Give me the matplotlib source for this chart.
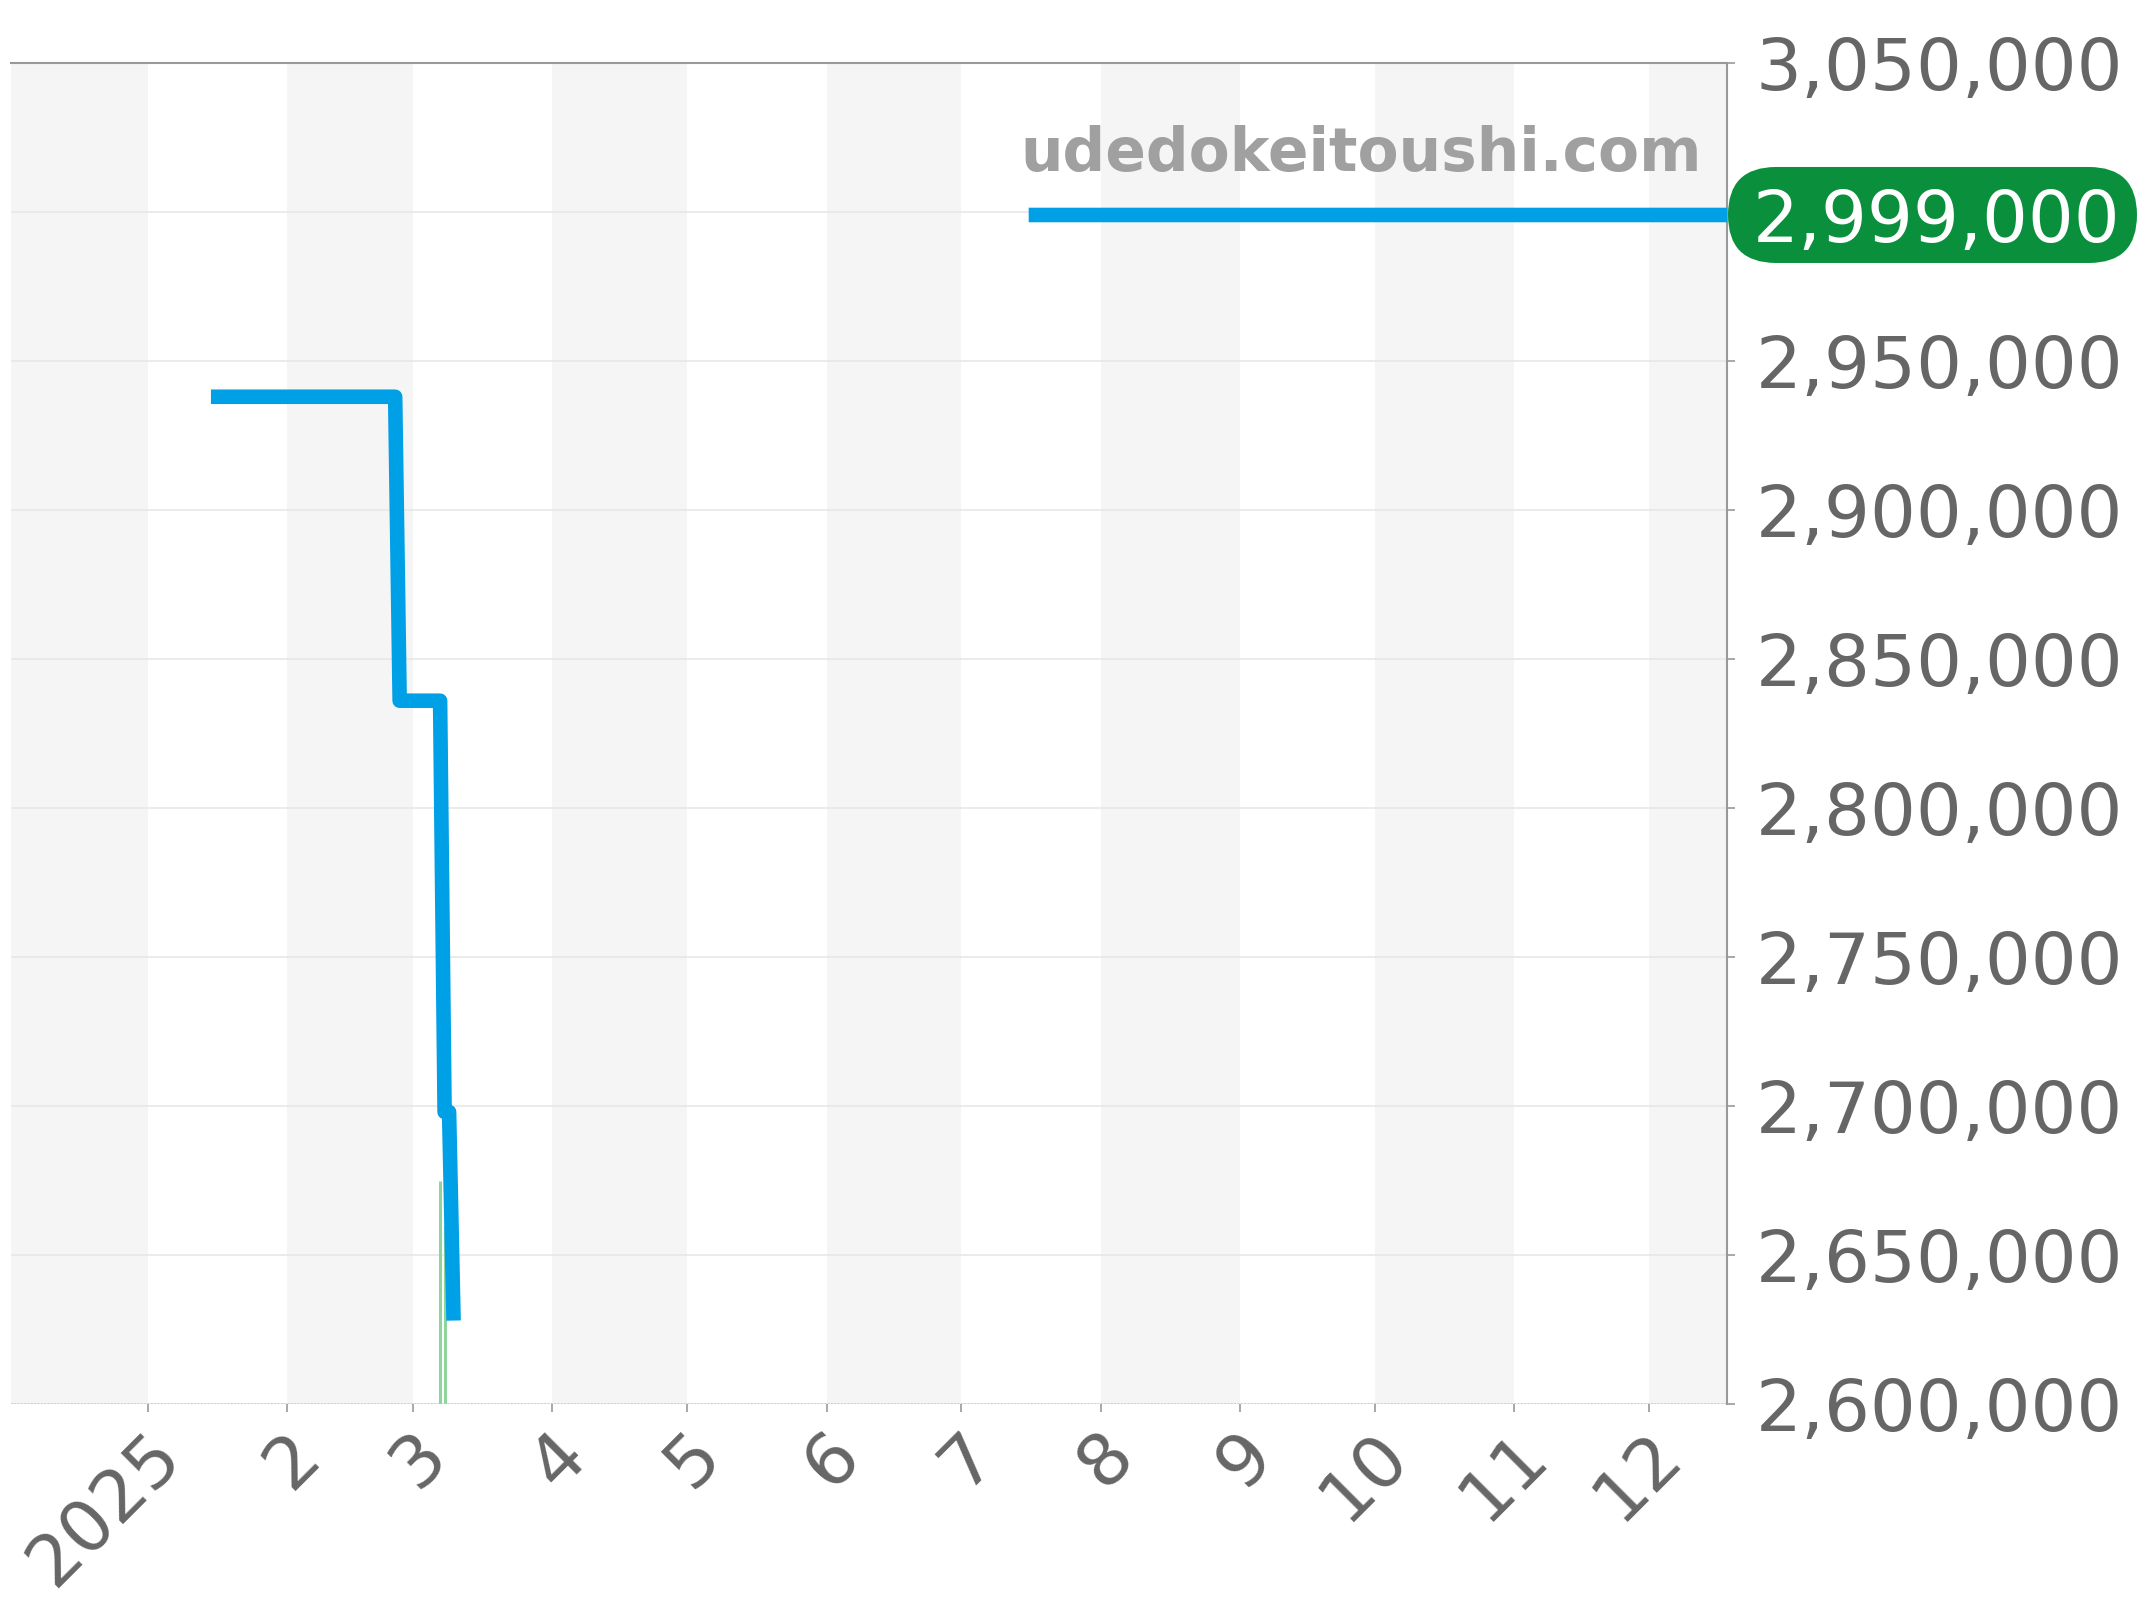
import numpy as np
import pandas as pd
import matplotlib
matplotlib.use('Agg')
import matplotlib.pyplot as plt
import matplotlib.transforms as mtrans
from matplotlib.patches import FancyBboxPatch

#==============================================================================
# Data
#==============================================================================
price_dates = ['2025-01-15', '2025-02-25', '2025-02-26', '2025-03-07', '2025-03-08',
               '2025-03-09', '2025-03-10', '2025-03-11', '2025-07-16', '2025-12-25']
prices = [2938000, 2938000, 2836000, 2836000, 2698000,
          2698000, 2628000, np.nan, 2999000, 2999000]

bar_dates = ['2025-03-07', '2025-03-08']
bar_tops = [2675000, 2660000]

last_price = 2999000
tick_labels = ['2025', '2', '3', '4', '5', '6', '7', '8', '9', '10', '11', '12']
y_ticks = list(range(2600000, 3050001, 50000))

x_start = pd.Timestamp('2024-12-01 12:00')
x_end = pd.Timestamp('2025-12-18 10:00')

#==============================================================================
# Plot
#==============================================================================
dpi = 100
fig = plt.figure(figsize=(21.44, 16), dpi=dpi)
ax = fig.add_axes([11/2144, 1 - 1404/1600, 1716/2144, 1341/1600])

# alternating month bands
bounds = pd.date_range('2024-12-01', '2026-01-01', freq='MS')
for i in range(0, len(bounds) - 1, 2):
    ax.axvspan(bounds[i], bounds[i + 1], color='#f5f5f5', lw=0, zorder=0)

ax.vlines(pd.to_datetime(bar_dates), 2600000, bar_tops, color='#8fd49c', lw=2.2, zorder=2)
ax.axhline(2600000, color='#a8dcb0', lw=1.2, ls=(0, (1, 1)), zorder=2)

ax.plot(pd.to_datetime(price_dates), prices, color='#00a0e6', lw=10.5,
        solid_capstyle='butt', solid_joinstyle='round', zorder=3)

ax.set_xlim(x_start, x_end)
ax.set_ylim(2600000, 3050000)

ax.set_yticks(y_ticks)
ax.set_yticklabels(['{:,}'.format(v) for v in y_ticks])
ax.yaxis.tick_right()
ax.yaxis.grid(True, color='#e6e6e6', lw=1.1, zorder=1)
ax.set_axisbelow(True)

ax.set_xticks(pd.date_range('2025-01-01', '2025-12-01', freq='MS'))
ax.set_xticklabels(tick_labels)

ax.tick_params(axis='y', which='both', right=True, left=False, length=6, width=1.2,
               color='#999999', labelsize=52, labelcolor='#666666', pad=14.5)
ax.tick_params(axis='x', length=6, width=1.2, color='#999999', labelsize=52,
               labelcolor='#666666', pad=0)

offset = mtrans.ScaledTranslation(0.22, -0.32, fig.dpi_scale_trans)
for lab in ax.get_xticklabels():
    lab.set_rotation(45)
    lab.set_rotation_mode('anchor')
    lab.set_ha('right')
    lab.set_va('center')
    lab.set_transform(lab.get_transform() + offset)

for s in ['left', 'bottom']:
    ax.spines[s].set_visible(False)
for s in ['top', 'right']:
    ax.spines[s].set_color('#999999')
    ax.spines[s].set_linewidth(1.5)

# watermark
ax.text(0.9854, 0.932, 'udedokeitoushi.com', transform=ax.transAxes, ha='right',
        va='center', fontsize=43, fontweight='bold', color='#a0a0a0', zorder=4)

# current price label: pill placed from the axes scale
x_px = ax.transAxes.transform((1.0, 0.0))[0]
y_px = ax.transData.transform((0, last_price))[1]
pill_w, pill_h = 409, 96
pill = FancyBboxPatch(((x_px + 1) / dpi, (y_px - pill_h / 2) / dpi), pill_w / dpi, pill_h / dpi,
                      boxstyle='round,pad=0,rounding_size=%f' % (pill_h / 2 / dpi),
                      transform=fig.dpi_scale_trans, fc='#0a903c', ec='none', zorder=5)
fig.add_artist(pill)
fig.text((x_px + 5 + pill_w / 2) / dpi, y_px / dpi, '{:,}'.format(last_price),
         transform=fig.dpi_scale_trans, ha='center', va='center_baseline', fontsize=52,
         color='white', zorder=6)

plt.savefig('out.png', dpi=dpi)
